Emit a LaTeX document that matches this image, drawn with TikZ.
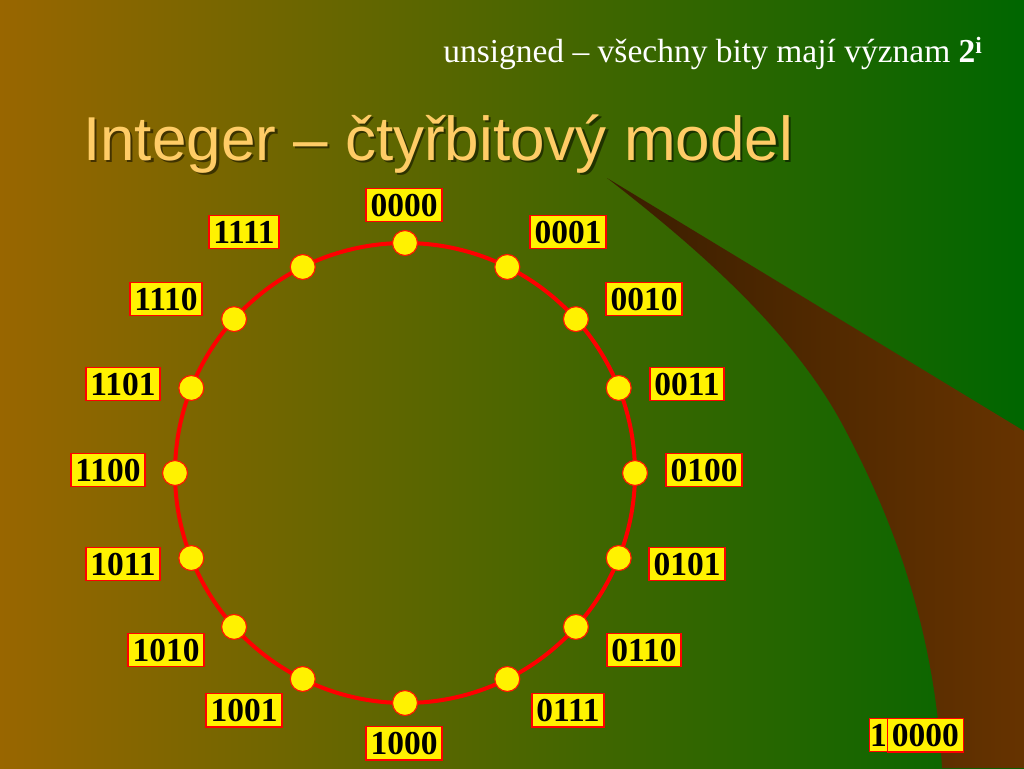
\documentclass[tikz,border=0pt]{standalone}
\usepackage{fontspec}
\setmainfont{Liberation Serif}
\newfontfamily\titlefont{Liberation Sans}
\usetikzlibrary{
		calc,
		positioning,
		arrows.meta
	}
\definecolor{bgleft}{RGB}{153,102,0}
\definecolor{bgright}{RGB}{0,102,0}
\definecolor{swooshdark}{RGB}{58,30,0}
\definecolor{swooshlight}{RGB}{102,51,0}
\definecolor{titlecol}{RGB}{255,204,102}
\definecolor{ringred}{RGB}{255,0,0}
\tikzset{
		>=stealth,
		bitbox/.style={draw=ringred, line width=1.5pt, fill=yellow, text=black, inner xsep=4.5pt, inner ysep=5.6pt, text depth=0pt, font=\fontsize{33.5}{36}\selectfont\bfseries},
		dot/.style={circle, draw=ringred!80!orange, line width=1.2pt, fill=yellow, minimum size=25pt, inner sep=0pt}
	}

\begin{document}
\begin{tikzpicture}[x=1pt, y=-1pt]
		\useasboundingbox (0,0) rectangle (1024,768);
		% Background
		\shade[left color=bgleft, right color=bgright] (0,0) rectangle (1024,768);
		\shade[left color=swooshdark, right color=swooshlight] (607,178) .. controls (700,250) and (790,330) .. (840,420) .. controls (900,530) and (935,640) .. (942,768) -- (1024,768) -- (1024,431) -- cycle;
		% Texts
		\node[anchor=base east, text=white, font=\fontsize{33.5}{36}\selectfont] (subtitle) at (986,63) {unsigned -- všechny bity mají význam \textbf{2}\textsuperscript{\textbf{i}}};
		\node[anchor=base west, inner sep=0pt, text=black, opacity=.5, font=\titlefont\fontsize{62}{70}\selectfont] (titleshadow) at (85.5,162.5) {Integer – čtyřbitový model};
		\node[anchor=base west, inner sep=0pt, text=titlecol, font=\titlefont\fontsize{62}{70}\selectfont] (title) at (83,160) {Integer – čtyřbitový model};
		% Ring
		\coordinate (c) at (405,473);
		\draw[ringred, line width=4pt] (c) circle (230);
		% Dots and labels
		\foreach \i/\ang/\bits/\lx/\ly in {0/0/0000/404/205, 1/26.4/0001/568/232, 2/48/0010/644/299, 3/68.3/0011/687/384,
				4/90/0100/704/470, 5/111.7/0101/687/564, 6/132/0110/644/650, 7/153.6/0111/568/710,
				8/180/1000/404/743, 9/206.4/1001/244/710, 10/228/1010/166/650, 11/248.3/1011/123/564,
				12/270/1100/108/470, 13/291.7/1101/123/384, 14/312/1110/166/299, 15/333.6/1111/244/232} {
			\path (c) ++(\ang-90:230) node[dot] (d\i) {};
			\node[bitbox] (b\bits) at (\lx,\ly) {\bits};
		}
		% Overflow
		\node[bitbox, inner xsep=0.5pt] (carry) at (878.5,735) {1};
		\node[bitbox, right=-1.5pt of carry] (low) {0000};
	\end{tikzpicture}
\end{document}
